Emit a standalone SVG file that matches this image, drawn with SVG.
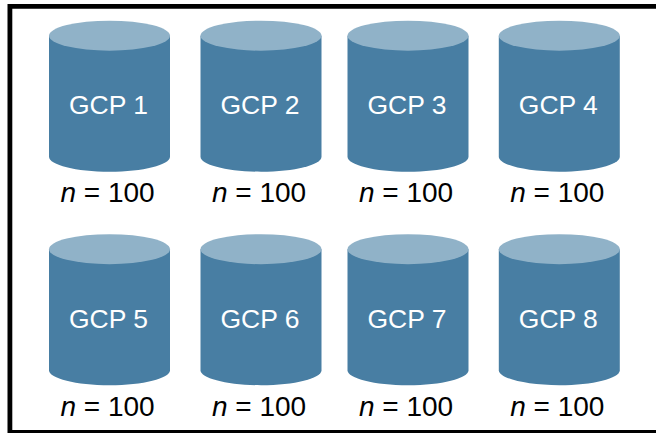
<svg xmlns="http://www.w3.org/2000/svg" width="656" height="433" viewBox="0 0 656 433">
<style>
text{font-family:"Liberation Sans",Arial,sans-serif;text-anchor:middle}
.b{fill:#487ea3}.t{fill:#90b2c8}.l{fill:#fff;font-size:26.500px}.n{fill:#000;font-size:28px}
</style>
<defs>
<g id="cyl">
<path class="b" d="M-60.500 35.700V156.700C-60.500 164.800 -33.500 171.700 0 171.700S60.500 164.800 60.500 156.700V35.700Z"/>
<ellipse class="t" cx="0" cy="35.700" rx="60.500" ry="15"/>
</g>
</defs>
<rect x="0" y="0" width="656" height="433" fill="#fff"/>
<g id="frame" fill="none" stroke="#000" stroke-width="4.800">
<path d="M656 6.400H9.900V432.500H656"/>
</g>
<g id="gcp1" transform="translate(109.500,0)"><use href="#cyl"/><text class="l" x="-1" y="114">GCP 1</text><text class="n" x="-2" y="201.500"><tspan font-style="italic">n</tspan> = 100</text></g>
<g id="gcp2" transform="translate(261,0)"><use href="#cyl"/><text class="l" x="-1" y="114">GCP 2</text><text class="n" x="-2" y="201.500"><tspan font-style="italic">n</tspan> = 100</text></g>
<g id="gcp3" transform="translate(408,0)"><use href="#cyl"/><text class="l" x="-1" y="114">GCP 3</text><text class="n" x="-2" y="201.500"><tspan font-style="italic">n</tspan> = 100</text></g>
<g id="gcp4" transform="translate(559.300,0)"><use href="#cyl"/><text class="l" x="-1" y="114">GCP 4</text><text class="n" x="-2" y="201.500"><tspan font-style="italic">n</tspan> = 100</text></g>
<g id="gcp5" transform="translate(109.500,213.500)"><use href="#cyl"/><text class="l" x="-1" y="114">GCP 5</text><text class="n" x="-2" y="202.200"><tspan font-style="italic">n</tspan> = 100</text></g>
<g id="gcp6" transform="translate(261,213.500)"><use href="#cyl"/><text class="l" x="-1" y="114">GCP 6</text><text class="n" x="-2" y="202.200"><tspan font-style="italic">n</tspan> = 100</text></g>
<g id="gcp7" transform="translate(408,213.500)"><use href="#cyl"/><text class="l" x="-1" y="114">GCP 7</text><text class="n" x="-2" y="202.200"><tspan font-style="italic">n</tspan> = 100</text></g>
<g id="gcp8" transform="translate(559.300,213.500)"><use href="#cyl"/><text class="l" x="-1" y="114">GCP 8</text><text class="n" x="-2" y="202.200"><tspan font-style="italic">n</tspan> = 100</text></g>
<g id="connectors"/>
</svg>
